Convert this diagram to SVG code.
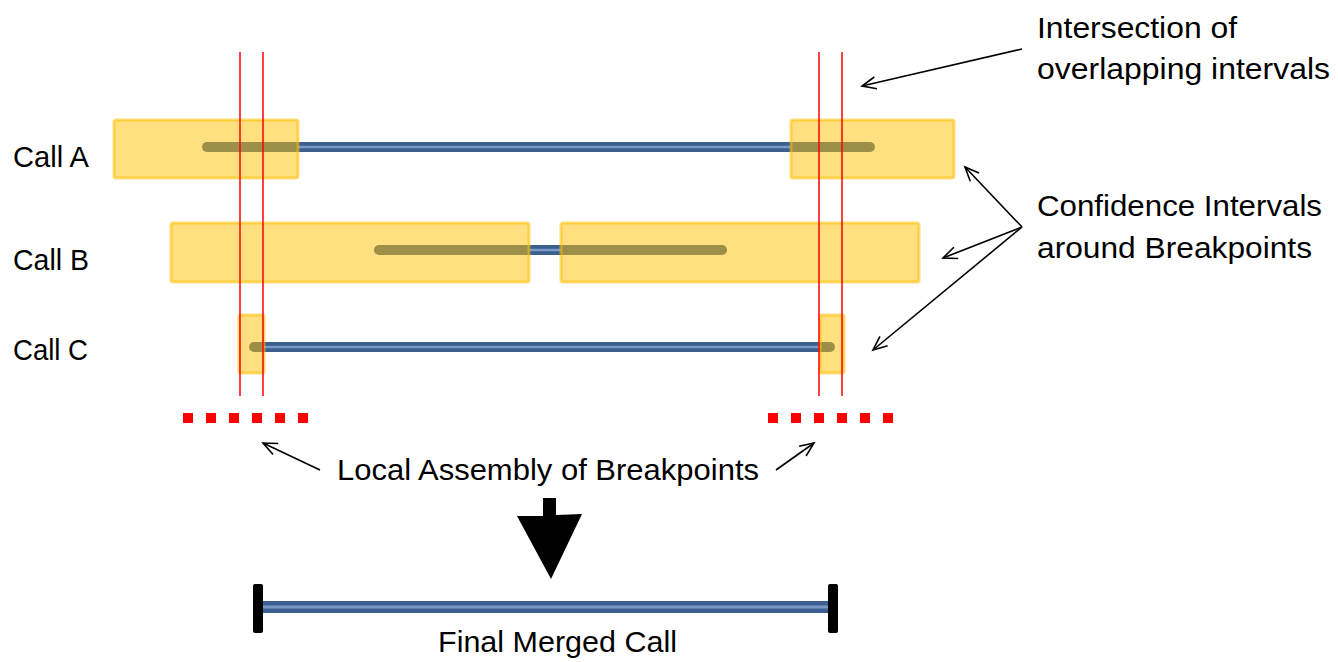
<svg xmlns="http://www.w3.org/2000/svg" width="1338" height="662" viewBox="0 0 1338 662">
<style>
.lbl{font-family:"Liberation Sans",Arial,sans-serif;font-size:30px;fill:#000}
.bar{stroke:#3B5F8F;stroke-width:10;stroke-linecap:round;fill:none}
.barhi{stroke:#7A98C6;stroke-width:2.5;fill:none}
.ci{fill:#FFC000;fill-opacity:0.5;stroke:#FFC000;stroke-opacity:0.55;stroke-width:3}
.red{stroke:#FF0000;stroke-width:1.5}
.dash{stroke:#FF0000;stroke-width:10;stroke-dasharray:10 13}
.conn{stroke:#000;stroke-width:1.6;fill:none;marker-end:url(#open)}
</style>
<defs>
<marker id="open" markerUnits="userSpaceOnUse" markerWidth="18" markerHeight="16" refX="15" refY="7" orient="auto">
<path d="M1,1 L15,7 L1,13" fill="none" stroke="#000" stroke-width="1.6"/>
</marker>
</defs>
<rect width="1338" height="662" fill="#fff"/>

<g id="callA">
<line class="bar" x1="207" y1="147" x2="870" y2="147"/>
<line class="barhi" x1="298" y1="147" x2="791" y2="147"/>
<rect class="ci" x="114" y="120" width="184" height="58" rx="2"/>
<rect class="ci" x="791" y="120" width="163" height="58" rx="2"/>
<text class="lbl" x="13" y="167" textLength="76" lengthAdjust="spacingAndGlyphs">Call A</text>
</g>

<g id="callB">
<line class="bar" x1="379" y1="250" x2="722" y2="250"/>
<line class="barhi" x1="529" y1="250" x2="561" y2="250"/>
<rect class="ci" x="171" y="223" width="358" height="59" rx="2"/>
<rect class="ci" x="561" y="223" width="358" height="59" rx="2"/>
<text class="lbl" x="13" y="270" textLength="76" lengthAdjust="spacingAndGlyphs">Call B</text>
</g>

<g id="callC">
<line class="bar" x1="254" y1="347" x2="830" y2="347"/>
<line class="barhi" x1="264" y1="347" x2="821" y2="347"/>
<rect class="ci" x="239" y="315" width="25" height="58" rx="2"/>
<rect class="ci" x="820" y="315" width="24" height="58" rx="2"/>
<text class="lbl" x="13" y="360" textLength="75" lengthAdjust="spacingAndGlyphs">Call C</text>
</g>

<g id="intersection">
<line class="red" x1="240" y1="52" x2="240" y2="396"/>
<line class="red" x1="263" y1="52" x2="263" y2="396"/>
<line class="red" x1="819" y1="52" x2="819" y2="396"/>
<line class="red" x1="842" y1="52" x2="842" y2="396"/>
<text class="lbl" x="1037" y="38" textLength="200" lengthAdjust="spacingAndGlyphs">Intersection of</text>
<text class="lbl" x="1037" y="79" textLength="293" lengthAdjust="spacingAndGlyphs">overlapping intervals</text>
</g>

<g id="confidence">
<text class="lbl" x="1037" y="216" textLength="285" lengthAdjust="spacingAndGlyphs">Confidence Intervals</text>
<text class="lbl" x="1037" y="258" textLength="275" lengthAdjust="spacingAndGlyphs">around Breakpoints</text>
</g>

<g id="assembly">
<line class="dash" x1="183" y1="418" x2="308" y2="418"/>
<line class="dash" x1="768" y1="418" x2="893" y2="418"/>
<text class="lbl" x="337" y="480" textLength="422" lengthAdjust="spacingAndGlyphs">Local Assembly of Breakpoints</text>
</g>

<g id="blockArrow">
<polygon points="543,498 556,498 556,515 582,514 551,579 517,516 543,516" fill="#000"/>
</g>

<g id="finalCall">
<line x1="258" y1="607" x2="833" y2="607" stroke="#3B5F8F" stroke-width="12"/>
<line x1="258" y1="607" x2="833" y2="607" stroke="#7A98C6" stroke-width="3"/>
<rect x="253" y="584" width="10" height="49" rx="2" fill="#000"/>
<rect x="828" y="584" width="10" height="49" rx="2" fill="#000"/>
<text class="lbl" x="438" y="652" textLength="239" lengthAdjust="spacingAndGlyphs">Final Merged Call</text>
</g>

<g id="connectors">
<line class="conn" x1="1022" y1="49" x2="862" y2="86"/>
<line class="conn" x1="1022" y1="227" x2="965" y2="167"/>
<line class="conn" x1="1022" y1="227" x2="943" y2="258"/>
<line class="conn" x1="1022" y1="227" x2="873" y2="350"/>
<line class="conn" x1="320" y1="470" x2="263" y2="443"/>
<line class="conn" x1="776" y1="470" x2="814" y2="443"/>
</g>
</svg>
